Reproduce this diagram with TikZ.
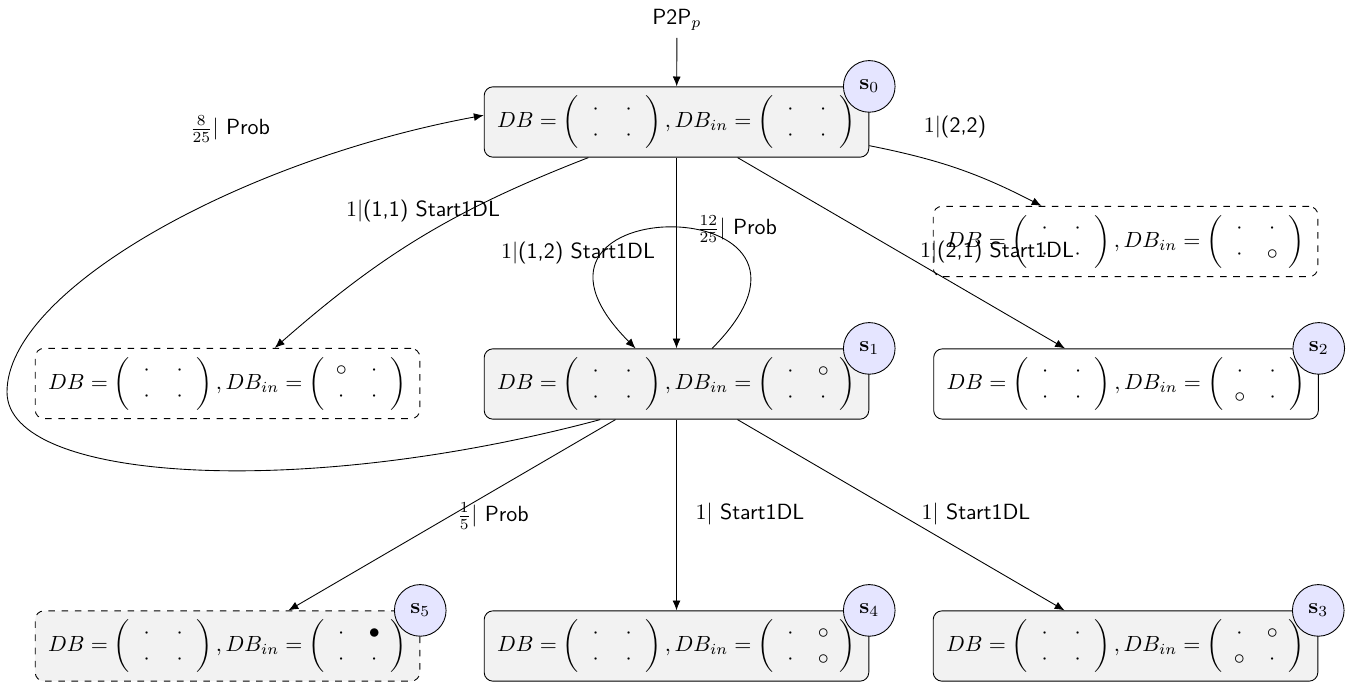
\documentclass[tikz,border=0pt]{standalone}
\usepackage{amsmath}
\usetikzlibrary{arrows.meta}
\newcommand{\mcell}[1]{\makebox[15pt]{$#1$}}
\newcommand{\mym}[4]{\left(\begin{array}{@{}c@{}c@{}}\mcell{#1}&\mcell{#2}\\\mcell{#3}&\mcell{#4}\end{array}\right)}
\newcommand{\stx}[4]{$DB=\mym{\cdot}{\cdot}{\cdot}{\cdot},DB_{in}=\mym{#1}{#2}{#3}{#4}$}
\tikzset{
  stbox/.style={rectangle, rounded corners=4pt, draw, minimum width=175pt, minimum height=32pt, inner sep=0pt},
  fillbox/.style={stbox, fill=gray!10},
  dashbox/.style={stbox, dashed},
  dashfill/.style={stbox, dashed, fill=gray!10},
  slab/.style={circle, draw, fill=blue!10, minimum size=23.5pt, inner sep=0pt},
  elab/.style={font=\sffamily, inner sep=1pt},
  arr/.style={-{Latex[length=4.5pt,width=3.6pt]}}
}
\begin{document}
\begin{tikzpicture}[x=0.455pt, y=-0.455pt]
\useasboundingbox (0,0) rectangle (1358,684);
% states
\node[fillbox] (s0) at (676.5,122) {\stx{\cdot}{\cdot}{\cdot}{\cdot}};
\node[dashbox] (tr) at (1125.5,241.5) {\stx{\cdot}{\cdot}{\cdot}{\circ}};
\node[dashbox] (ld) at (227.5,383.5) {\stx{\circ}{\cdot}{\cdot}{\cdot}};
\node[fillbox] (s1) at (676.5,384) {\stx{\cdot}{\circ}{\cdot}{\cdot}};
\node[stbox] (s2) at (1126,384) {\stx{\cdot}{\cdot}{\circ}{\cdot}};
\node[dashfill] (s5) at (227.5,646) {\stx{\cdot}{\bullet}{\cdot}{\cdot}};
\node[fillbox] (s4) at (676.5,646) {\stx{\cdot}{\circ}{\cdot}{\circ}};
\node[fillbox] (s3) at (1125.5,646) {\stx{\cdot}{\circ}{\circ}{\cdot}};
% state tags
\node[slab] (c0) at (s0.north east) {$\mathbf{s}_0$};
\node[slab] (c1) at (s1.north east) {$\mathbf{s}_1$};
\node[slab] (c2) at (s2.north east) {$\mathbf{s}_2$};
\node[slab] (c3) at (s3.north east) {$\mathbf{s}_3$};
\node[slab] (c4) at (s4.north east) {$\mathbf{s}_4$};
\node[slab] (c5) at (s5.north east) {$\mathbf{s}_5$};
% entry
\node[elab, inner sep=3pt] (p2p) at (677,20) {P2P$_p$};
\draw[arr] (p2p) -- (s0);
% edges
\draw[arr] (s0.-7) to[bend left=8] (tr.157);
\draw[arr] (s0.202) to[bend right=10] (ld.37);
\draw[arr] (s0) -- (s1);
\draw[arr] (s0) -- (s2);
\draw[arr] (s1.45) .. controls +(160,-161) and +(-160,-161) .. (s1.139);
\coordinate (lp) at (7,392);
\draw[arr] (s1.205) .. controls (300,500) and (7,482) .. (lp) .. controls (7,290) and (241,160) .. (s0.178);
\draw[arr] (s1) -- (s5);
\draw[arr] (s1) -- (s4);
\draw[arr] (s1) -- (s3);
% labels
\node[elab] (l22) at (955,127) {$1|$(2,2)};
\node[elab] (l825) at (230,129) {$\frac{8}{25}|$ Prob};
\node[elab] (l11) at (423,211) {$1|$(1,1) Start1DL};
\node[elab] (l12) at (578,253) {$1|$(1,2) Start1DL};
\node[elab] (l1225) at (737,229) {$\frac{12}{25}|$ Prob};
\node[elab] (l21) at (997,252) {$1|$(2,1) Start1DL};
\node[elab] (l15) at (493,516) {$\frac{1}{5}|$ Prob};
\node[elab] (l4) at (750,514) {$1|$ Start1DL};
\node[elab] (l3) at (976,514) {$1|$ Start1DL};
\end{tikzpicture}
\end{document}
